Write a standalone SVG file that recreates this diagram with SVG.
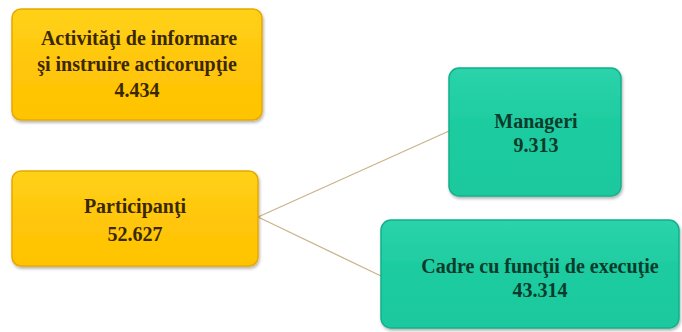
<svg xmlns="http://www.w3.org/2000/svg" width="682" height="332" viewBox="0 0 682 332">
<style>
.ybox{fill:url(#gy);stroke:#e8a800;stroke-width:1.5}
.tbox{fill:url(#gt);stroke:#13b08a;stroke-width:1.5}
.yt{font-family:"Liberation Serif",serif;font-weight:bold;font-size:20px;fill:#3a2800;text-anchor:middle}
.tt{font-family:"Liberation Serif",serif;font-weight:bold;font-size:20px;fill:#0c3b2c;text-anchor:middle}
.conn{stroke:#c9b48c;stroke-width:1.3;fill:none}
</style>
<defs>
<linearGradient id="gy" x1="0" y1="0" x2="0" y2="1">
<stop offset="0" stop-color="#ffd21a"/><stop offset="0.5" stop-color="#ffc60a"/><stop offset="1" stop-color="#ffc400"/>
</linearGradient>
<linearGradient id="gt" x1="0" y1="0" x2="0" y2="1">
<stop offset="0" stop-color="#2bd3ab"/><stop offset="0.5" stop-color="#1ccb9f"/><stop offset="1" stop-color="#1dc99e"/>
</linearGradient>
<filter id="sh" x="-10%" y="-10%" width="120%" height="125%">
<feDropShadow dx="1" dy="2" stdDeviation="1.5" flood-color="#000" flood-opacity="0.3"/>
</filter>
</defs>
<rect width="682" height="332" fill="#ffffff"/>
<g id="connectors">
<path class="conn" d="M258,217 L449,131"/>
<path class="conn" d="M258,217 L381,276"/>
</g>
<g id="n1">
<rect class="ybox" x="12" y="9" width="250" height="111" rx="9" filter="url(#sh)"/>
<text class="yt" x="139" y="45">Activităţi de informare</text>
<text class="yt" x="137" y="71">şi instruire acticorupţie</text>
<text class="yt" x="137" y="97">4.434</text>
</g>
<g id="n2">
<rect class="ybox" x="12" y="171" width="246" height="95" rx="9" filter="url(#sh)"/>
<text class="yt" x="135" y="213">Participanţi</text>
<text class="yt" x="135" y="241">52.627</text>
</g>
<g id="n3">
<rect class="tbox" x="449" y="68" width="172" height="128" rx="10" filter="url(#sh)"/>
<text class="tt" x="536" y="128">Manageri</text>
<text class="tt" x="536" y="152">9.313</text>
</g>
<g id="n4">
<rect class="tbox" x="381" y="220" width="298" height="108" rx="10" filter="url(#sh)"/>
<text class="tt" x="540" y="273">Cadre cu funcţii de execuţie</text>
<text class="tt" x="540" y="297">43.314</text>
</g>
</svg>
